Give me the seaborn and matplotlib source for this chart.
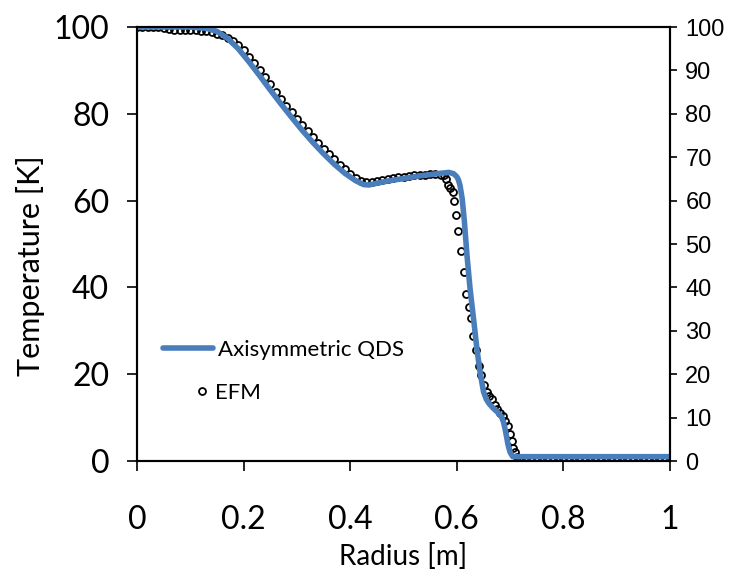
import matplotlib
matplotlib.use("Agg")
import matplotlib.pyplot as plt
from matplotlib.lines import Line2D
import seaborn as sns

# === Data ===
qds_radius = [0.0, 0.10, 0.13, 0.15, 0.17, 0.19, 0.21, 0.23, 0.25, 0.27, 0.29, 0.31,
              0.33, 0.35, 0.37, 0.39, 0.41, 0.425, 0.435, 0.45, 0.47, 0.49, 0.51, 0.53,
              0.55, 0.57, 0.585, 0.594, 0.600, 0.603, 0.606, 0.610, 0.614, 0.619, 0.625,
              0.631, 0.638, 0.644, 0.650, 0.655, 0.660, 0.668, 0.676, 0.684, 0.688,
              0.692, 0.696, 0.700, 0.705, 1.0]
qds_temp = [100.0, 100.0, 99.7, 99.0, 97.4, 95.0, 92.0, 88.8, 85.5, 82.3, 79.2, 76.2,
            73.4, 70.8, 68.4, 66.3, 64.6, 63.7, 63.6, 64.0, 64.5, 64.9, 65.3, 65.7,
            66.0, 66.3, 66.5, 66.2, 65.5, 64.8, 63.5, 60.5, 55.5, 47.5, 39.5,
            33.2, 25.5, 20.2, 16.0, 14.3, 13.3, 12.2, 11.3, 10.2, 8.8,
            6.5, 3.8, 2.0, 1.0, 1.0]

efm_radius = [0.00, 0.01, 0.02, 0.03, 0.04, 0.05, 0.06, 0.07, 0.08, 0.09,
              0.10, 0.11, 0.12, 0.13, 0.14, 0.15, 0.16, 0.17, 0.18, 0.19,
              0.20, 0.21, 0.22, 0.23, 0.24, 0.25, 0.26, 0.27, 0.28, 0.29,
              0.30, 0.31, 0.32, 0.33, 0.34, 0.35, 0.36, 0.37, 0.38, 0.39,
              0.40, 0.41, 0.42, 0.43, 0.44, 0.45, 0.46, 0.47, 0.48, 0.49,
              0.50, 0.51, 0.52, 0.53, 0.54, 0.55, 0.56, 0.57,
              0.576, 0.580, 0.584, 0.588, 0.592, 0.595, 0.598, 0.603, 0.608, 0.613,
              0.617, 0.622, 0.627, 0.631, 0.636, 0.641, 0.646, 0.651, 0.656, 0.661,
              0.666, 0.671, 0.676, 0.681, 0.686, 0.691, 0.696, 0.700, 0.703, 0.706,
              0.709, 0.712, 0.716, 0.72,
              0.73, 0.74, 0.75, 0.76, 0.77, 0.78, 0.79, 0.80, 0.81, 0.82, 0.83,
              0.84, 0.85, 0.86, 0.87, 0.88, 0.89, 0.90, 0.91, 0.92, 0.93, 0.94,
              0.95, 0.96, 0.97, 0.98, 0.99, 1.00]
efm_temp = [100.0, 100.0, 100.0, 100.0, 99.9, 99.8, 99.5, 99.3, 99.3, 99.3,
            99.3, 99.2, 99.0, 99.0, 98.8, 98.5, 98.1, 97.5, 96.8, 95.8,
            94.6, 93.2, 91.7, 90.1, 88.4, 86.8, 85.1, 83.5, 81.9, 80.4,
            78.9, 77.4, 76.0, 74.6, 73.3, 72.0, 70.7, 69.5, 68.3, 67.2,
            66.2, 65.3, 64.6, 64.2, 64.4, 64.6, 64.8, 65.0, 65.2, 65.4,
            65.5, 65.7, 65.8, 65.9, 66.0, 66.1, 66.1, 66.0,
            65.8, 65.0, 63.6, 62.8, 61.9, 59.8, 56.7, 52.9, 48.5, 43.5,
            38.4, 35.5, 33.0, 28.8, 25.6, 22.0, 19.8, 17.5, 16.0, 15.0,
            14.2, 13.0, 12.0, 11.0, 10.3, 9.3, 8.0, 6.2, 4.5, 3.0,
            2.0, 1.0, 0.6, 0.5,
            0.5, 0.5, 0.5, 0.5, 0.5, 0.5, 0.5, 0.5, 0.5, 0.5, 0.5,
            0.5, 0.5, 0.5, 0.5, 0.5, 0.5, 0.5, 0.5, 0.5, 0.5, 0.5,
            0.5, 0.5, 0.5, 0.5, 0.5, 0.5]

x_ticks = [0, 0.2, 0.4, 0.6, 0.8, 1.0]
x_tick_labels = ["0", "0.2", "0.4", "0.6", "0.8", "1"]
left_ticks = [0, 20, 40, 60, 80, 100]
right_ticks = [0, 10, 20, 30, 40, 50, 60, 70, 80, 90, 100]

qds_color = "#4a7ebb"

# === Style ===
sns.set_style("white")
plt.rcParams["font.family"] = ["Lato", "DejaVu Sans"]
plt.rcParams["text.color"] = "black"
plt.rcParams["axes.labelcolor"] = "black"

fig = plt.figure(figsize=(7.31, 5.69), dpi=100)
ax = fig.add_axes([0.1874, 0.1898, 0.7292, 0.7627])

# EFM circles under the QDS line
sns.lineplot(x=efm_radius, y=efm_temp, ax=ax, marker="o", linestyle="",
             mfc="none", mec="black", mew=1.3, ms=5, legend=False, zorder=2)
sns.lineplot(x=qds_radius, y=qds_temp, ax=ax, color=qds_color, lw=4,
             solid_joinstyle="round", solid_capstyle="round", legend=False, zorder=3)

ax.set_xlim(0, 1)
ax.set_ylim(0, 100)
ax.set_xticks(x_ticks, x_tick_labels)
ax.set_yticks(left_ticks)
ax.tick_params(axis="x", direction="out", length=7, width=1.2, labelsize=23, pad=25,
               bottom=True, colors="black")
ax.tick_params(axis="y", direction="out", length=7, width=1.2, labelsize=23, pad=13,
               left=True, colors="black")
for s in ax.spines.values():
    s.set_color("black")
    s.set_linewidth(1.5)

ax.set_xlabel("Radius [m]", fontsize=20, va="center", color="black")
ax.xaxis.set_label_coords(0.5, -0.219)
ax.set_ylabel("Temperature [K]", fontsize=22, va="center", color="black")
ax.yaxis.set_label_coords(-0.199, 0.45)

# right-hand scale
ax2 = ax.twinx()
ax2.set_ylim(0, 100)
ax2.set_yticks(right_ticks)
ax2.tick_params(axis="y", direction="out", length=5, width=1.2, labelsize=17, pad=6,
                right=True, colors="black")
for lab in ax2.get_yticklabels():
    lab.set_fontfamily("Liberation Sans")
for s in ax2.spines.values():
    s.set_color("black")
    s.set_linewidth(1.5)

# === Legend ===
leg1 = ax.legend(handles=[Line2D([], [], color=qds_color, lw=4)],
                 labels=["Axisymmetric QDS"], loc="center left",
                 bbox_to_anchor=(0.049, 0.256), frameon=False, fontsize=16,
                 handlelength=2.25, handletextpad=0.22, borderpad=0, borderaxespad=0)
ax.add_artist(leg1)
ax.legend(handles=[Line2D([], [], marker="o", linestyle="", mfc="none", mec="black",
                          mew=1.3, ms=5)],
          labels=["EFM"], loc="center left", bbox_to_anchor=(0.111, 0.157),
          frameon=False, fontsize=16, handlelength=0.5, handletextpad=0.36,
          borderpad=0, borderaxespad=0)

fig.savefig("out.png", dpi=100)
